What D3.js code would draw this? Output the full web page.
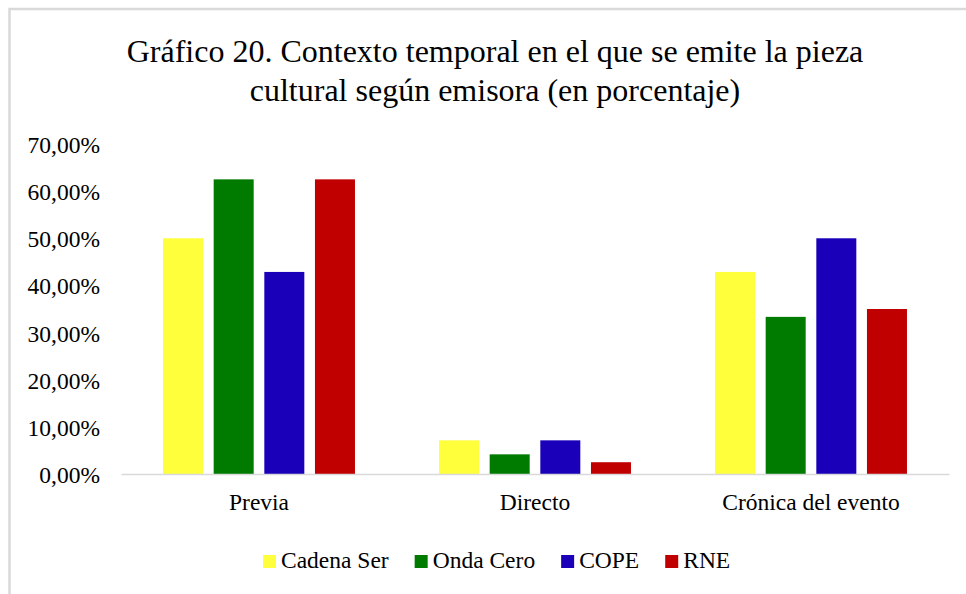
<!DOCTYPE html>
<html>
<head>
<meta charset="utf-8">
<script src="https://cdn.jsdelivr.net/npm/d3@7"></script>
<style>
  html, body { margin: 0; padding: 0; background: #fff; }
  svg { display: block; }
</style>
</head>
<body>
<svg id="chart" width="966" height="594"></svg>
<script>
// Contexto temporal de la pieza cultural, por emisora (porcentajes)
const categories = ["Previa", "Directo", "Crónica del evento"];
const series = ["Cadena Ser", "Onda Cero", "COPE", "RNE"];
const cadenaSer = [50.00, 7.14, 42.86];
const ondaCero  = [62.50, 4.17, 33.33];
const cope      = [42.86, 7.14, 50.00];
const rne       = [62.50, 2.50, 35.00];
const yTicks = [0, 10, 20, 30, 40, 50, 60, 70];
const colors = ["#ffff3c", "#007b00", "#1a00b8", "#c00000"];
const titleLines = [
  "Gráfico 20. Contexto temporal en el que se emite la pieza",
  "cultural según emisora (en porcentaje)"
];

const SERIF = "'Liberation Serif', monospace";
const values = [cadenaSer, ondaCero, cope, rne];
const rows = categories.map((c, i) => ({
  cat: c,
  vals: series.map((s, j) => ({ s, j, v: values[j][i] }))
}));

const svg = d3.select("#chart");

// chart frame
svg.append("rect")
  .attr("x", 9.5).attr("y", 9).attr("width", 970).attr("height", 600)
  .attr("fill", "#fff").attr("stroke", "#d9d9d9").attr("stroke-width", 2.5);

const x0 = d3.scaleBand().domain(categories).range([121, 949]).padding(0);
const x1 = d3.scaleBand().domain(series).range([0, x0.bandwidth()])
  .paddingInner(0.21).paddingOuter(0.83);
const y = d3.scaleLinear().domain([0, 70]).range([474, 144]);

// title
svg.append("g").selectAll("text").data(titleLines).join("text")
  .attr("x", 495).attr("y", (d, i) => 62 + i * 39)
  .attr("text-anchor", "middle")
  .style("font-family", SERIF).style("font-size", "32px").style("fill", "#000")
  .text(d => d);

// y axis labels (no axis line, no ticks)
const fmt = v => d3.format(".2f")(v).replace(".", ",") + "%";
const yAxis = d3.axisLeft(y).tickValues(yTicks).tickFormat(fmt).tickSize(0).tickPadding(0);
const yG = svg.append("g").attr("transform", "translate(100,0)").call(yAxis);
yG.select(".domain").remove();
yG.selectAll("text")
  .style("font-family", SERIF).style("font-size", "23.5px").style("fill", "#000")
  .attr("dy", "0.36em");

// bars
const groups = svg.append("g").selectAll("g").data(rows).join("g")
  .attr("transform", d => `translate(${x0(d.cat)},0)`);
groups.selectAll("rect").data(d => d.vals).join("rect")
  .attr("x", d => x1(d.s))
  .attr("width", x1.bandwidth())
  .attr("y", d => y(d.v))
  .attr("height", d => y(0) - y(d.v))
  .attr("fill", d => colors[d.j]);

// category axis
const xAxis = d3.axisBottom(x0).tickSize(0).tickPadding(0);
const xG = svg.append("g").attr("transform", `translate(0,${y(0)})`).call(xAxis);
xG.select(".domain").attr("stroke", "#d9d9d9").attr("stroke-width", 1.5);
xG.selectAll("text")
  .style("font-family", SERIF).style("font-size", "23.5px").style("fill", "#000")
  .attr("dy", 0).attr("y", 36);

// legend
const legend = svg.append("g").attr("transform", "translate(263,0)");
let lx = 0;
series.forEach((s, j) => {
  legend.append("rect").attr("x", lx).attr("y", 555).attr("width", 13).attr("height", 13)
    .attr("fill", colors[j]);
  const t = legend.append("text").attr("x", lx + 18).attr("y", 568)
    .style("font-family", SERIF).style("font-size", "23.5px").style("fill", "#000")
    .text(s);
  lx += 18 + t.node().getComputedTextLength() + 26;
});
</script>
</body>
</html>
